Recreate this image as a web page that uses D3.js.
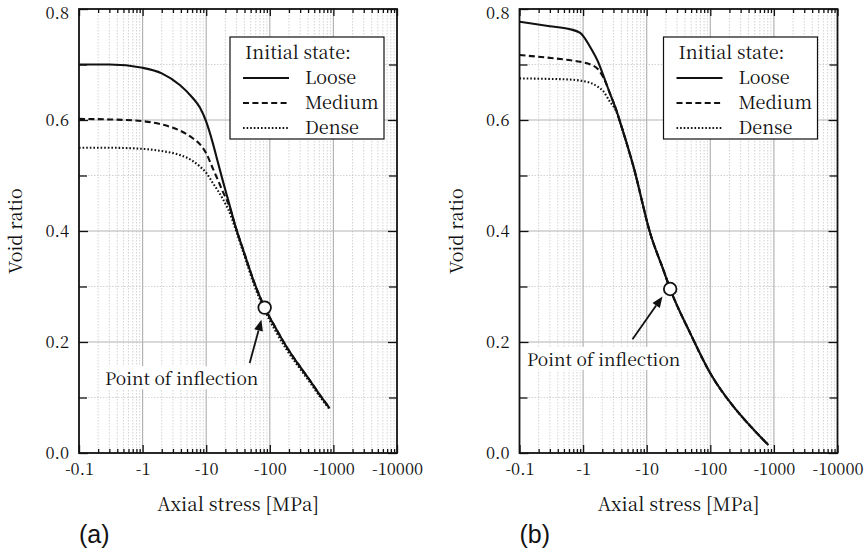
<!DOCTYPE html>
<html><head><meta charset="utf-8">
<script src="https://cdn.jsdelivr.net/npm/d3@7"></script>
<style>
body{margin:0;background:#fff}
svg{display:block}
</style>
</head><body>
<svg id="chart" width="867" height="554"></svg>
<script>
// ---------- data ----------
const xTickLabels = ["-0.1", "-1", "-10", "-100", "-1000", "-10000"];
const yTickLabels = ["0.0", "0.2", "0.4", "0.6", "0.8"];
const yMinorTicks = [0.1, 0.3, 0.5, 0.7];
const legendTitle = "Initial state:";
const seriesNames = ["Loose", "Medium", "Dense"];
const panelLabels = ["(a)", "(b)"];
const annotationText = "Point of inflection";

// Panel (a)
const stressA = [-0.1, -0.3, -1, -2, -3.85, -6, -8, -10, -12.8, -15, -18.4, -22, -30, -40, -55, -83, -120, -182, -280, -423, -600, -871];
const looseA  = [0.700, 0.700, 0.694, 0.684, 0.663, 0.641, 0.622, 0.597, 0.557, 0.527, 0.489, 0.457, 0.402, 0.359, 0.312, 0.262, 0.228, 0.192, 0.160, 0.1315, 0.106, 0.0805];
const mediumA = [0.602, 0.601, 0.598, 0.592, 0.581, 0.568, 0.556, 0.540, 0.512, 0.494, 0.470, 0.451, 0.402, 0.359, 0.312, 0.262, 0.228, 0.192, 0.160, 0.1315, 0.106, 0.0805];
const denseA  = [0.550, 0.550, 0.548, 0.544, 0.537, 0.527, 0.516, 0.505, 0.486, 0.474, 0.457, 0.440, 0.398, 0.355, 0.307, 0.257, 0.222, 0.187, 0.156, 0.128, 0.103, 0.079];
const inflectionA = [-83, 0.262];
const arrowA = [[-48.3, 0.162], [-73.8, 0.240]];
const labelPosA = [-0.256, 0.133];

// Panel (b)
const stressB = [-0.1, -0.3, -0.6, -0.9, -1.3, -1.7, -2.1, -2.64, -3.3, -3.8, -6.2, -11.35, -18.4, -23.4, -48.3, -100, -232, -400, -686, -820];
const looseB  = [0.777, 0.769, 0.764, 0.757, 0.731, 0.706, 0.679, 0.648, 0.619, 0.597, 0.516, 0.396, 0.329, 0.2955, 0.216, 0.1436, 0.0834, 0.052, 0.0234, 0.0144];
const mediumB = [0.717, 0.712, 0.708, 0.705, 0.700, 0.692, 0.676, 0.648, 0.619, 0.597, 0.516, 0.396, 0.329, 0.2955, 0.216, 0.1436, 0.0834, 0.052, 0.0234, 0.0144];
const denseB  = [0.675, 0.674, 0.673, 0.671, 0.667, 0.660, 0.651, 0.633, 0.616, 0.596, 0.516, 0.396, 0.329, 0.2955, 0.216, 0.1436, 0.0834, 0.052, 0.0234, 0.0144];
const inflectionB = [-23.4, 0.2955];
const arrowB = [[-5.98, 0.205], [-17.7, 0.282]];
const labelPosB = [-0.131, 0.168];

// ---------- layout ----------
const SERIF = "'Noto Serif CJK SC', 'Liberation Serif', serif";
const SANS = "'Liberation Sans', Arial, sans-serif";
const svg = d3.select("#chart");
const PW = 318, PH = 444, TOP = 9;
const panels = [
  {left: 79, stress: stressA, series: [looseA, mediumA, denseA], infl: inflectionA, arrow: arrowA, labelPos: labelPosA, legendX: 151, label: panelLabels[0]},
  {left: 519.5, stress: stressB, series: [looseB, mediumB, denseB], infl: inflectionB, arrow: arrowB, labelPos: labelPosB, legendX: 144, label: panelLabels[1]}
];
const dashes = [null, "6,3.4", "1.6,2"];

const xMajor = xTickLabels.map(Number);
const xMinor = [];
xMajor.slice(0, -1).forEach(d => { for (let k = 2; k <= 9; k++) xMinor.push(d * k); });
const yMajor = yTickLabels.map(Number);

panels.forEach(p => {
  const g = svg.append("g").attr("transform", `translate(${p.left},${TOP})`);
  const x = d3.scaleLog().domain([-0.1, -10000]).range([0, PW]);
  const y = d3.scaleLinear().domain([0, 0.8]).range([PH, 0]);

  // grid
  const grid = g.append("g");
  grid.selectAll(".vmin").data(xMinor).join("line")
    .attr("x1", d => x(d)).attr("x2", d => x(d)).attr("y1", 0).attr("y2", PH)
    .attr("stroke", "#c8c8c8").attr("stroke-width", 0.8).attr("stroke-dasharray", "1.5,1.5");
  grid.selectAll(".hmin").data(yMinorTicks).join("line")
    .attr("x1", 0).attr("x2", PW).attr("y1", d => y(d)).attr("y2", d => y(d))
    .attr("stroke", "#c8c8c8").attr("stroke-width", 0.8).attr("stroke-dasharray", "1.5,1.5");
  grid.selectAll(".vmaj").data(xMajor.slice(1, -1)).join("line")
    .attr("x1", d => x(d)).attr("x2", d => x(d)).attr("y1", 0).attr("y2", PH)
    .attr("stroke", "#b4b4b4").attr("stroke-width", 1.2);
  grid.selectAll(".hmaj").data(yMajor.slice(1, -1)).join("line")
    .attr("x1", 0).attr("x2", PW).attr("y1", d => y(d)).attr("y2", d => y(d))
    .attr("stroke", "#b4b4b4").attr("stroke-width", 1.2);

  // annotation text with white background
  const lp = [x(p.labelPos[0]), y(p.labelPos[1])];
  const txt = g.append("text").attr("x", lp[0]).attr("y", lp[1]).attr("dy", "0.35em")
    .attr("font-family", SERIF).attr("font-size", 17.5).attr("fill", "#111").text(annotationText);
  const bb = txt.node().getBBox();
  g.insert("rect", "text").attr("x", bb.x - 3).attr("y", bb.y + 1).attr("width", bb.width + 6).attr("height", bb.height - 2).attr("fill", "#fff");

  // curves
  const line = d3.line().x(d => x(d[0])).y(d => y(d[1])).curve(d3.curveMonotoneX);
  [2, 1, 0].forEach(i => {
    const pts = p.stress.map((s, j) => [s, p.series[i][j]]);
    g.append("path").attr("d", line(pts)).attr("fill", "none").attr("stroke", "#111")
      .attr("stroke-width", 2.1).attr("stroke-dasharray", dashes[i]);
  });

  // arrow
  const a0 = [x(p.arrow[0][0]), y(p.arrow[0][1])], a1 = [x(p.arrow[1][0]), y(p.arrow[1][1])];
  const ang = Math.atan2(a1[1] - a0[1], a1[0] - a0[0]);
  const hl = 11, hw = 4.5;
  const base = [a1[0] - hl * Math.cos(ang), a1[1] - hl * Math.sin(ang)];
  g.append("line").attr("x1", a0[0]).attr("y1", a0[1]).attr("x2", base[0]).attr("y2", base[1])
    .attr("stroke", "#111").attr("stroke-width", 1.8);
  g.append("polygon").attr("points", [
    a1,
    [base[0] + hw * Math.sin(ang), base[1] - hw * Math.cos(ang)],
    [base[0] - hw * Math.sin(ang), base[1] + hw * Math.cos(ang)]
  ].map(q => q.join(",")).join(" ")).attr("fill", "#111");

  // inflection marker
  g.append("circle").attr("cx", x(p.infl[0])).attr("cy", y(p.infl[1])).attr("r", 6.3)
    .attr("fill", "#fff").attr("stroke", "#111").attr("stroke-width", 1.8);

  // axes (ticks inward)
  const styleAxis = sel => {
    sel.attr("font-family", SERIF).attr("font-size", 16.5);
    sel.select(".domain").remove();
    sel.selectAll("line").attr("stroke", "#111").attr("stroke-width", 1.3);
    sel.selectAll("text").attr("fill", "#111");
  };
  g.append("g").attr("transform", `translate(0,${PH})`)
    .call(d3.axisBottom(x).tickValues(xMajor).tickFormat((d, i) => xTickLabels[i]).tickSize(-8).tickPadding(10)).call(styleAxis);
  g.append("g").attr("transform", `translate(0,${PH})`)
    .call(d3.axisBottom(x).tickValues(xMinor).tickFormat("").tickSize(-4)).call(styleAxis);
  g.append("g").call(d3.axisTop(x).tickValues(xMajor).tickFormat("").tickSize(-7)).call(styleAxis);
  g.append("g").call(d3.axisTop(x).tickValues(xMinor).tickFormat("").tickSize(-4)).call(styleAxis);
  const yAx = g.append("g").call(d3.axisLeft(y).tickValues(yMajor).tickFormat((d, i) => yTickLabels[i]).tickSize(-9).tickPadding(10)).call(styleAxis);
  // keep the topmost label inside the picture
  yAx.selectAll(".tick text").filter(d => d === yMajor[yMajor.length - 1]).attr("dy", "0.55em");
  g.append("g").call(d3.axisLeft(y).tickValues(yMinorTicks).tickFormat("").tickSize(-8)).call(styleAxis);
  g.append("g").attr("transform", `translate(${PW},0)`).call(d3.axisRight(y).tickValues(yMajor).tickFormat("").tickSize(-9)).call(styleAxis);
  g.append("g").attr("transform", `translate(${PW},0)`).call(d3.axisRight(y).tickValues(yMinorTicks).tickFormat("").tickSize(-8)).call(styleAxis);

  // frame
  g.append("rect").attr("width", PW).attr("height", PH).attr("fill", "none").attr("stroke", "#111").attr("stroke-width", 1.8);

  // legend
  const lg = g.append("g").attr("transform", `translate(${p.legendX},28)`).attr("font-family", SERIF).attr("font-size", 18).attr("fill", "#111");
  lg.append("rect").attr("width", 154).attr("height", 102).attr("fill", "#fff").attr("stroke", "#111").attr("stroke-width", 1.2);
  lg.append("text").attr("x", 15).attr("y", 16).attr("dy", "0.35em").text(legendTitle);
  seriesNames.forEach((n, i) => {
    const yy = 41 + i * 25;
    lg.append("line").attr("x1", 13).attr("x2", 59).attr("y1", yy).attr("y2", yy)
      .attr("stroke", "#111").attr("stroke-width", 2.1).attr("stroke-dasharray", dashes[i]);
    lg.append("text").attr("x", 75).attr("y", yy).attr("dy", "0.35em").text(n);
  });

  // axis titles
  g.append("text").attr("x", PW / 2).attr("y", PH + 51).attr("dy", "0.35em").attr("text-anchor", "middle")
    .attr("font-family", SERIF).attr("font-size", 18.7).attr("fill", "#111").text("Axial stress [MPa]");
  g.append("text").attr("transform", `translate(-63,${PH / 2}) rotate(-90)`).attr("dy", "0.35em").attr("text-anchor", "middle")
    .attr("font-family", SERIF).attr("font-size", 18).attr("fill", "#111").text("Void ratio");
  g.append("text").attr("x", 0).attr("y", PH + 81).attr("dy", "0.35em")
    .attr("font-family", SANS).attr("font-size", 25).attr("fill", "#111").text(p.label);
});
</script>
</body></html>
